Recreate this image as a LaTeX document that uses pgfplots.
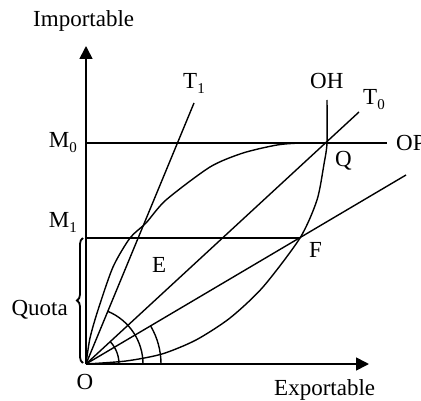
\documentclass[border=0pt]{standalone}
\usepackage{fontspec}
\setmainfont{Liberation Serif}
\usepackage{pgfplots}
\pgfplotsset{compat=1.18}
\usetikzlibrary{arrows.meta,decorations.pathreplacing}
\newcommand\sub[1]{\raisebox{-5pt}{\fontsize{15}{15}\selectfont #1}}
\tikzset{lbl/.style={inner sep=0pt,font=\fontsize{23}{27}\selectfont},
  ln/.style={black,solid,line width=1.4pt,mark=none}}
\begin{document}
\begin{tikzpicture}
\path[use as bounding box] (0,0) rectangle (421pt,400pt);
\clip (0,0) rectangle (421pt,400pt);
\begin{axis}[at={(0,0)},anchor=south west,scale only axis,
  width=421pt,height=400pt,xmin=-86,xmax=335,ymin=-36,ymax=364,
  hide axis,clip=false]
% axes
\addplot[ln,line width=1.7pt,-{Triangle[length=13pt,width=13pt]}] coordinates {(0,0) (0,318)};
\addplot[ln,line width=1.7pt,-{Triangle[length=13pt,width=13pt]}] coordinates {(0,0) (283,0)};
% horizontal lines
\addplot[ln] coordinates {(0,221) (301,221)};
\addplot[ln] coordinates {(0,126) (214,126)};
% rays
\addplot[ln] coordinates {(0,0) (108,261)};
\addplot[ln] coordinates {(0,0) (273,252)};
\addplot[ln] coordinates {(0,0) (320,189)};
% OH offer curve
\addplot[ln,smooth,tension=0.45] coordinates {(0,0) (40,3) (76,10) (110,24) (144,46) (177,77) (214,126) (231,164) (238,200) (241,221) (241,264)};
% OP offer curve
\addplot[ln,smooth,tension=0.45] coordinates {(0,0) (4,26) (12,54) (27,97) (44,126) (60,141) (80,164) (124,197) (157,211) (191,219) (215,221) (241,221)};
% angle arcs
\draw[line width=1.4pt] (axis cs:57,0) arc[start angle=0,end angle=67.5,radius=57pt];
\draw[line width=1.4pt] (axis cs:75,0) arc[start angle=0,end angle=30.5,radius=75pt];
\draw[line width=1.4pt] (axis cs:33,0) arc[start angle=0,end angle=42.7,radius=33pt];
% brace
\draw[line width=1.8pt,decorate,decoration={brace,amplitude=6pt}] (axis cs:-3,1) -- (axis cs:-3,126);
% labels
\node[lbl,anchor=base west] at (axis cs:-53,337) {Importable};
\node[lbl,anchor=base west] at (axis cs:188,-31) {Exportable};
\node[lbl,anchor=base] at (axis cs:-1,-25) {O};
\node[lbl,anchor=base east] at (axis cs:-9,216) {M\sub{0}};
\node[lbl,anchor=base east] at (axis cs:-9,137) {M\sub{1}};
\node[lbl,anchor=base east] at (axis cs:-18,49) {Quota};
\node[lbl,anchor=base west] at (axis cs:97,275) {T\sub{1}};
\node[lbl,anchor=base west] at (axis cs:277,259) {T\sub{0}};
\node[lbl,anchor=base west] at (axis cs:224,275) {OH};
\node[lbl,anchor=base west] at (axis cs:310,214) {OP};
\node[lbl,anchor=base west] at (axis cs:249,198) {Q};
\node[lbl,anchor=base west] at (axis cs:66,92) {E};
\node[lbl,anchor=base west] at (axis cs:223,107) {F};
\end{axis}
\end{tikzpicture}
\end{document}
